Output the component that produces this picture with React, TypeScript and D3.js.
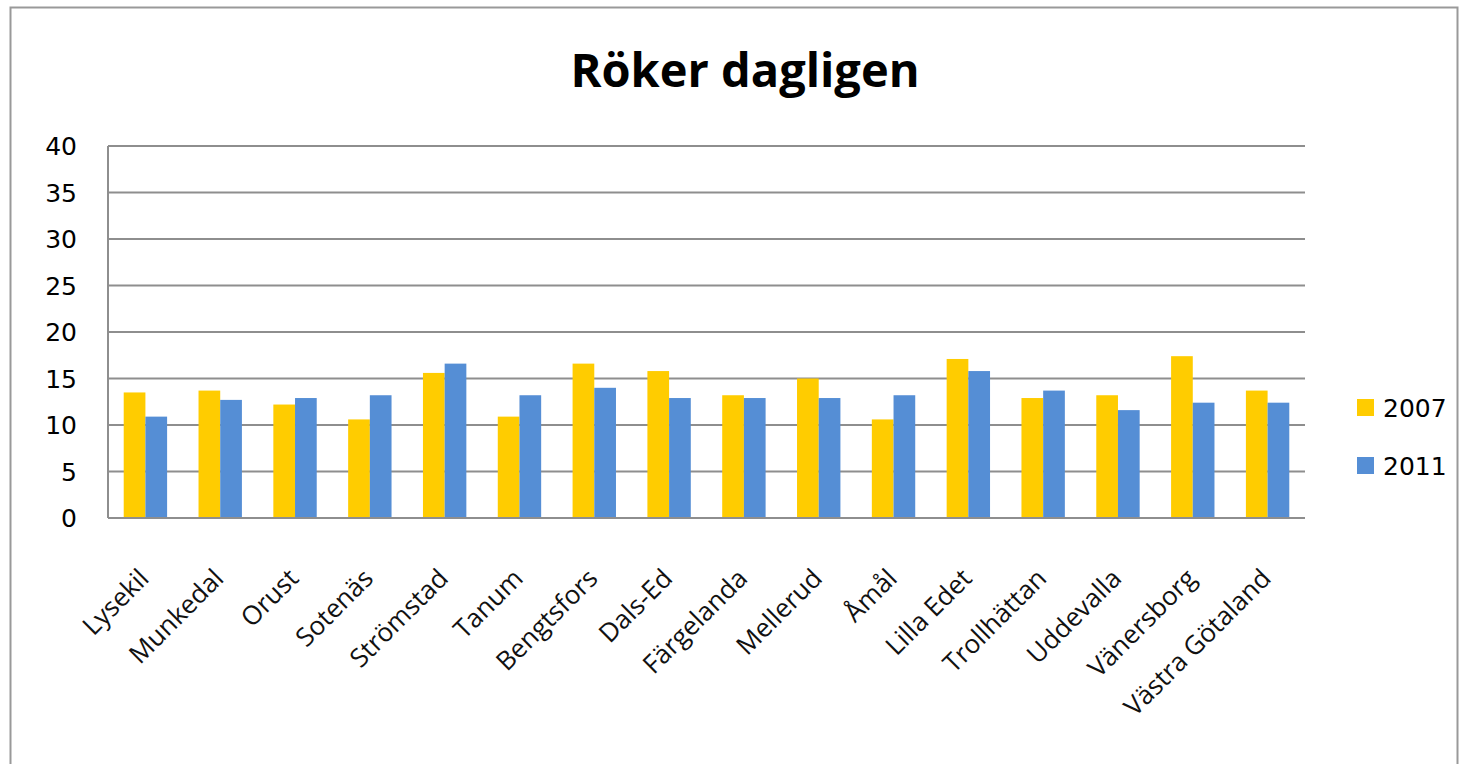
import React from "react";
import * as d3 from "d3";

const categories = [
  "Lysekil", "Munkedal", "Orust", "Sotenäs", "Strömstad", "Tanum", "Bengtsfors", "Dals-Ed",
  "Färgelanda", "Mellerud", "Åmål", "Lilla Edet", "Trollhättan", "Uddevalla", "Vänersborg", "Västra Götaland",
];
const values2007 = [13.5, 13.7, 12.2, 10.6, 15.6, 10.9, 16.6, 15.8, 13.2, 15.0, 10.6, 17.1, 12.9, 13.2, 17.4, 13.7];
const values2011 = [10.9, 12.7, 12.9, 13.2, 16.6, 13.2, 14.0, 12.9, 12.9, 12.9, 13.2, 15.8, 13.7, 11.6, 12.4, 12.4];
const seriesNames = ["2007", "2011"];
const yTicks = [0, 5, 10, 15, 20, 25, 30, 35, 40];
const colors = ["#FFCC00", "#558ED5"];

export default function App() {
  const width = 1466;
  const height = 764;
  const left = 108, right = 1305, top = 146, bottom = 518;

  const x = d3.scaleBand<string>().domain(categories).range([left, right])
    .paddingInner(0.42).paddingOuter(0.21);
  const xs = d3.scaleBand<string>().domain(seriesNames).range([0, x.bandwidth()]);
  const y = d3.scaleLinear().domain([0, 40]).range([bottom, top]);
  const series = [values2007, values2011];

  return (
    <div style={{ position: "absolute", left: 0, top: 0 }}>
      <svg width={width} height={height} style={{ display: "block", background: "#fff" }}>
        <rect x={10.5} y={7.5} width={1447} height={800} fill="#fff" stroke="#999" strokeWidth={2} />
        <text x={745} y={87} textAnchor="middle" fontFamily="'Open Sans', sans-serif"
          fontWeight="bold" fontSize={47} fill="#000">Röker dagligen</text>

        {yTicks.map((t) => (
          <g key={t}>
            <line x1={left} x2={right} y1={y(t)} y2={y(t)} stroke="#8e8e8e" strokeWidth={2} />
            <text x={77} y={y(t)} dy="0.36em" textAnchor="end" fontFamily="'DejaVu Sans', sans-serif"
              fontSize={25} fill="#000">{t}</text>
          </g>
        ))}
        <line x1={left} x2={left} y1={top} y2={bottom} stroke="#8e8e8e" strokeWidth={2} />

        {series.map((vals, si) => (
          <g key={si} fill={colors[si]}>
            {categories.map((c, i) => (
              <rect key={c} x={(x(c) ?? 0) + (xs(seriesNames[si]) ?? 0)} y={y(vals[i])}
                width={xs.bandwidth()} height={y(0) - y(vals[i])} />
            ))}
          </g>
        ))}
        <line x1={left} x2={right} y1={bottom} y2={bottom} stroke="#8e8e8e" strokeWidth={2} />

        {categories.map((c) => {
          const cx = (x(c) ?? 0) + x.bandwidth() / 2;
          return (
            <text key={c} transform={`translate(${cx + 5},580) rotate(-45)`} textAnchor="end"
              fontFamily="'Open Sans', sans-serif" fontSize={26} fill="#111">{c}</text>
          );
        })}

        {seriesNames.map((s, i) => (
          <g key={s} transform={`translate(1357,${399 + i * 58})`}>
            <rect width={17} height={17} fill={colors[i]} />
            <text x={26} y={8.5} dy="0.36em" fontFamily="'DejaVu Sans', sans-serif" fontSize={25}
              fill="#000">{s}</text>
          </g>
        ))}
      </svg>
    </div>
  );
}
